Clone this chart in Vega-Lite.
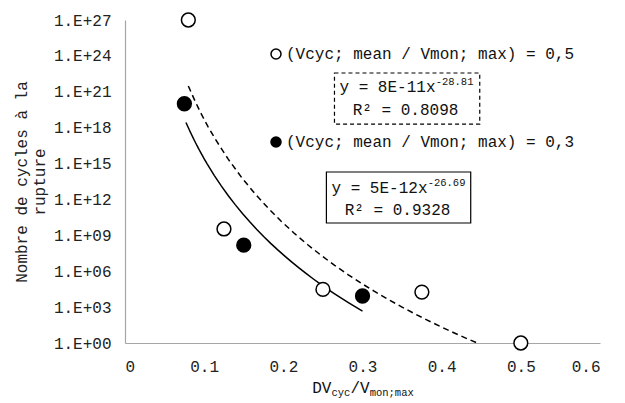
{
  "$schema": "https://vega.github.io/schema/vega-lite/v6.json",
  "width": 475,
  "height": 323,
  "autosize": "none",
  "padding": {"left": 125, "top": 20, "right": 25, "bottom": 60},
  "background": "white",
  "config": {
    "view": {"stroke": null},
    "font": "Liberation Mono",
    "text": {"font": "Liberation Mono", "fontSize": 16, "color": "#111"},
    "axis": {"labelFont": "Liberation Mono", "titleFont": "Liberation Mono", "labelFontSize": 16, "titleFontSize": 16, "titleFontWeight": "normal", "labelColor": "#222", "titleColor": "#222", "ticks": false, "grid": false, "domainColor": "#a6a6a6", "domainWidth": 1.2}
  },
  "data": {
    "values": [
      {"x": 0.08, "y": 1e27, "series": "(Vcyc; mean / Vmon; max) = 0,5"},
      {"x": 0.125, "y": 3.4e9, "series": "(Vcyc; mean / Vmon; max) = 0,5"},
      {"x": 0.25, "y": 3e4, "series": "(Vcyc; mean / Vmon; max) = 0,5"},
      {"x": 0.375, "y": 1.8e4, "series": "(Vcyc; mean / Vmon; max) = 0,5"},
      {"x": 0.5, "y": 1, "series": "(Vcyc; mean / Vmon; max) = 0,5"},
      {"x": 0.075, "y": 1e20, "series": "(Vcyc; mean / Vmon; max) = 0,3"},
      {"x": 0.15, "y": 1.5e8, "series": "(Vcyc; mean / Vmon; max) = 0,3"},
      {"x": 0.3, "y": 8.5e3, "series": "(Vcyc; mean / Vmon; max) = 0,3"}
    ]
  },
  "layer": [
    {
      "transform": [
        {"filter": "datum.series === '(Vcyc; mean / Vmon; max) = 0,5'"},
        {"regression": "y", "on": "x", "method": "pow", "extent": [0.08, 0.5]}
      ],
      "mark": {"type": "line", "color": "black", "strokeWidth": 1.5, "strokeDash": [6, 4], "clip": true},
      "encoding": {
        "x": {"field": "x", "type": "quantitative"},
        "y": {"field": "y", "type": "quantitative"}
      }
    },
    {
      "transform": [
        {"filter": "datum.series === '(Vcyc; mean / Vmon; max) = 0,3'"},
        {"regression": "y", "on": "x", "method": "pow", "extent": [0.077, 0.3]}
      ],
      "mark": {"type": "line", "color": "black", "strokeWidth": 1.5, "clip": true},
      "encoding": {
        "x": {"field": "x", "type": "quantitative"},
        "y": {"field": "y", "type": "quantitative"}
      }
    },
    {
      "mark": {"type": "point", "shape": "circle", "filled": true, "stroke": "black", "strokeWidth": 1.5, "size": 190, "opacity": 1},
      "encoding": {
        "x": {"field": "x", "type": "quantitative", "scale": {"domain": [0, 0.6], "nice": false, "zero": false},
          "axis": {"values": [0, 0.1, 0.2, 0.3, 0.4, 0.5, 0.6], "format": "~g", "title": null, "labelPadding": 15}},
        "y": {"field": "y", "type": "quantitative", "scale": {"type": "log", "domain": [1, 1e27], "nice": false},
          "axis": {"values": [1, 1e3, 1e6, 1e9, 1e12, 1e15, 1e18, 1e21, 1e24, 1e27],
            "labelExpr": "'1.E+' + (round(log(datum.value)/LN10) < 10 ? '0' : '') + round(log(datum.value)/LN10)",
            "labelPadding": 14, "title": ["Nombre de cycles à la", "rupture"], "titlePadding": 6, "titleLineHeight": 18}},
        "fill": {"field": "series", "type": "nominal",
          "scale": {"domain": ["(Vcyc; mean / Vmon; max) = 0,5", "(Vcyc; mean / Vmon; max) = 0,3"], "range": ["white", "black"]},
          "legend": {"orient": "none", "legendX": 143, "legendY": 26, "title": null, "symbolType": "circle", "symbolSize": 100,
            "symbolStrokeColor": "black", "symbolStrokeWidth": 1.5, "labelFont": "Liberation Mono", "labelFontSize": 16,
            "labelColor": "#111", "labelLimit": 400, "rowPadding": 72, "labelOffset": 2}}
      }
    },
    {
      "data": {"values": [{}]},
      "mark": {"type": "rect", "fillOpacity": 0, "stroke": "black", "strokeWidth": 1.2, "strokeDash": [4, 3]},
      "encoding": {"x": {"datum": 0.2646}, "x2": {"datum": 0.4481}, "y": {"datum": 3.7e22}, "y2": {"datum": 2e18}}
    },
    {
      "data": {"values": [{}]},
      "mark": {"type": "rect", "fillOpacity": 0, "stroke": "black", "strokeWidth": 1.2},
      "encoding": {"x": {"datum": 0.2544}, "x2": {"datum": 0.4367}, "y": {"datum": 1.96e14}, "y2": {"datum": 1.07e10}}
    },
    {
      "data": {"values": [{"t": "y = 8E-11x"}]},
      "mark": {"type": "text", "align": "left", "baseline": "middle"},
      "encoding": {"x": {"datum": 0.2709}, "y": {"datum": 2.5e21}, "text": {"field": "t"}}
    },
    {
      "data": {"values": [{"t": "-28.81"}]},
      "mark": {"type": "text", "align": "left", "baseline": "middle", "fontSize": 10.5},
      "encoding": {"x": {"datum": 0.3924}, "y": {"datum": 6.6e21}, "text": {"field": "t"}}
    },
    {
      "data": {"values": [{"t": "R² = 0.8098"}]},
      "mark": {"type": "text", "align": "center", "baseline": "middle"},
      "encoding": {"x": {"datum": 0.3544}, "y": {"datum": 3.0e19}, "text": {"field": "t"}}
    },
    {
      "data": {"values": [{"t": "y = 5E-12x"}]},
      "mark": {"type": "text", "align": "left", "baseline": "middle"},
      "encoding": {"x": {"datum": 0.2608}, "y": {"datum": 9.1e12}, "text": {"field": "t"}}
    },
    {
      "data": {"values": [{"t": "-26.69"}]},
      "mark": {"type": "text", "align": "left", "baseline": "middle", "fontSize": 10.5},
      "encoding": {"x": {"datum": 0.3823}, "y": {"datum": 2.4e13}, "text": {"field": "t"}}
    },
    {
      "data": {"values": [{"t": "R² = 0.9328"}]},
      "mark": {"type": "text", "align": "center", "baseline": "middle"},
      "encoding": {"x": {"datum": 0.3443}, "y": {"datum": 1.3e11}, "text": {"field": "t"}}
    },
    {
      "data": {"values": [{"t": "DV"}]},
      "mark": {"type": "text", "align": "left", "baseline": "middle", "dy": 45},
      "encoding": {"x": {"datum": 0.2365}, "y": {"datum": 1}, "text": {"field": "t"}}
    },
    {
      "data": {"values": [{"t": "cyc"}]},
      "mark": {"type": "text", "align": "left", "baseline": "middle", "dy": 50, "fontSize": 10.5},
      "encoding": {"x": {"datum": 0.2608}, "y": {"datum": 1}, "text": {"field": "t"}}
    },
    {
      "data": {"values": [{"t": "/V"}]},
      "mark": {"type": "text", "align": "left", "baseline": "middle", "dy": 45},
      "encoding": {"x": {"datum": 0.2847}, "y": {"datum": 1}, "text": {"field": "t"}}
    },
    {
      "data": {"values": [{"t": "mon;max"}]},
      "mark": {"type": "text", "align": "left", "baseline": "middle", "dy": 50, "fontSize": 10.5},
      "encoding": {"x": {"datum": 0.309}, "y": {"datum": 1}, "text": {"field": "t"}}
    }
  ]
}
